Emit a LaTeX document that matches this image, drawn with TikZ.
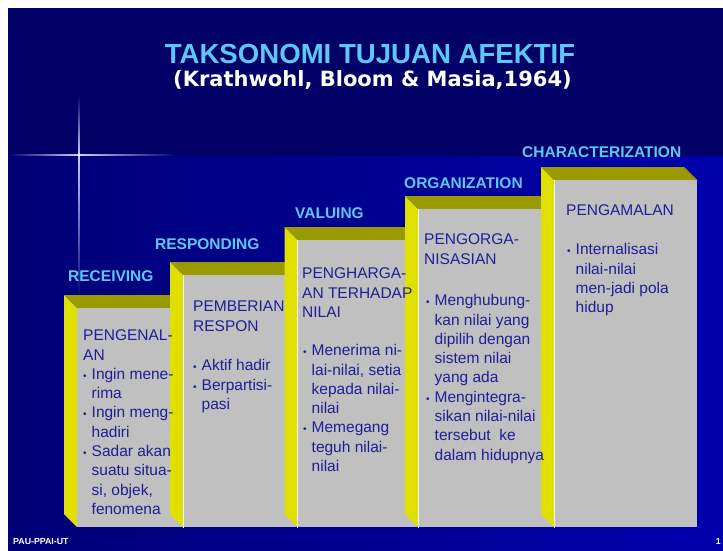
\documentclass[tikz,border=0pt]{standalone}
\usepackage{fontspec}
\setmainfont{Liberation Sans}
\newfontfamily\subfont{DejaVu Sans}
\definecolor{navytop}{RGB}{0,0,102}
\definecolor{navyleft}{RGB}{0,0,118}
\definecolor{navyright}{RGB}{0,0,172}
\definecolor{lblue}{RGB}{92,200,248}
\definecolor{txtblue}{RGB}{30,30,150}
\definecolor{facegray}{RGB}{192,192,192}
\definecolor{faceolive}{RGB}{153,153,0}
\definecolor{faceyellow}{RGB}{224,224,0}
\definecolor{flare}{RGB}{200,210,255}
\newcommand{\stepface}[3]{%
  \fill[faceolive] (#1-13,#3-13) -- (#2-13,#3-13) -- (#2,#3) -- (#1,#3) -- cycle;
  \fill[faceyellow] (#1-13,#3-13) -- (#1,#3) -- (#1,527) -- (#1-13,514) -- cycle;
  \fill[facegray] (#1,#3) rectangle (#2,527);
}
\newcommand{\mybul}{\makebox[8.5pt][l]{\fontsize{10}{10}\selectfont\textbullet}}
\newcommand{\bulind}{\hspace*{8.5pt}}
\tikzset{
  lbl/.style={font=\fontsize{15.5}{18}\selectfont\bfseries, text=lblue, anchor=west, inner sep=0pt},
  body/.style={font=\fontsize{15.5}{19.3}\selectfont, text=txtblue, align=left, anchor=north west, inner sep=0pt},
  sep/.style={draw=white, line width=0.7pt}
}
\begin{document}
\begin{tikzpicture}[x=1pt,y=-1pt]
\useasboundingbox (0,0) rectangle (723,550);
\fill[white] (0,0) rectangle (723,550);
% background
\fill[navytop] (8,8) rectangle (723,156);
\shade[left color=navyleft, right color=navyright] (8,156) rectangle (723,550);
% flare
\shade[left color=navytop, right color=flare] (8,154.3) rectangle (79,155.7);
\shade[left color=flare, right color=navyleft] (79,154.3) rectangle (175,155.7);
\shade[top color=navytop, bottom color=flare] (78.4,95) rectangle (79.6,155);
\shade[top color=flare, bottom color=navyleft] (78.4,155) rectangle (79.6,300);
\fill[white] (79,155) circle (1.5);
% title
\node[font=\fontsize{27.6}{30}\selectfont\bfseries, text=lblue, inner sep=0pt] (title) at (370,54) {TAKSONOMI TUJUAN AFEKTIF};
\node[font=\subfont\bfseries\fontsize{21}{24}\selectfont, text=white, inner sep=0pt, anchor=west] (sub) at (173,80) {(Krathwohl, Bloom \& Masia,1964)};
% steps
\stepface{77}{183}{308}
\stepface{183}{297.5}{275}
\stepface{297.5}{418}{240}
\stepface{418}{554}{209}
\stepface{554}{697}{180}
\draw[sep] (183,275) -- (183,528);
\draw[sep] (297.5,240) -- (297.5,528);
\draw[sep] (418,209) -- (418,528);
\draw[sep] (554,180) -- (554,528);
% step labels
\node[lbl] (receiving) at (68,276) {RECEIVING};
\node[lbl] (responding) at (155,244) {RESPONDING};
\node[lbl] (valuing) at (295,213) {VALUING};
\node[lbl] (organization) at (404,183) {ORGANIZATION};
\node[lbl] (character) at (522,152) {CHARACTERIZATION};
% column 1
\node[body] (c1) at (83,327) {\strut PENGENAL-\\AN\\\mybul Ingin mene-\\\bulind rima\\\mybul Ingin meng-\\\bulind hadiri\\\mybul Sadar akan\\\bulind suatu situa-\\\bulind si, objek,\\\bulind fenomena};
% column 2
\node[body] (c2h) at (193,298) {\strut PEMBERIAN\\RESPON};
\node[body] (c2b) at (193,357) {\strut\mybul Aktif hadir\\\mybul Berpartisi-\\\bulind pasi};
% column 3
\node[body] (c3h) at (302,265) {\strut PENGHARGA-\\AN TERHADAP\\NILAI};
\node[body] (c3b) at (303,342) {\strut\mybul Menerima ni-\\\bulind lai-nilai, setia\\\bulind kepada nilai-\\\bulind nilai\\\mybul Memegang\\\bulind teguh nilai-\\\bulind nilai};
% column 4
\node[body] (c4h) at (424,231) {\strut PENGORGA-\\NISASIAN};
\node[body] (c4b) at (426,292) {\strut\mybul Menghubung-\\\bulind kan nilai yang\\\bulind dipilih dengan\\\bulind sistem nilai\\\bulind yang ada\\\mybul Mengintegra-\\\bulind sikan nilai-nilai\\\bulind tersebut\ \ ke\\\bulind dalam hidupnya};
% column 5
\node[body] (c5h) at (566,202) {\strut PENGAMALAN};
\node[body] (c5b) at (567,241) {\strut\mybul Internalisasi\\\bulind nilai-nilai\\\bulind men-jadi pola\\\bulind hidup};
% footer
\node[font=\fontsize{8.8}{10}\selectfont\bfseries, text=white, anchor=west, inner sep=0pt] (foot) at (13,542) {PAU-PPAI-UT};
\node[font=\fontsize{8.8}{10}\selectfont\bfseries, text=white, anchor=east, inner sep=0pt] (page) at (721,541) {1};
\end{tikzpicture}
\end{document}
